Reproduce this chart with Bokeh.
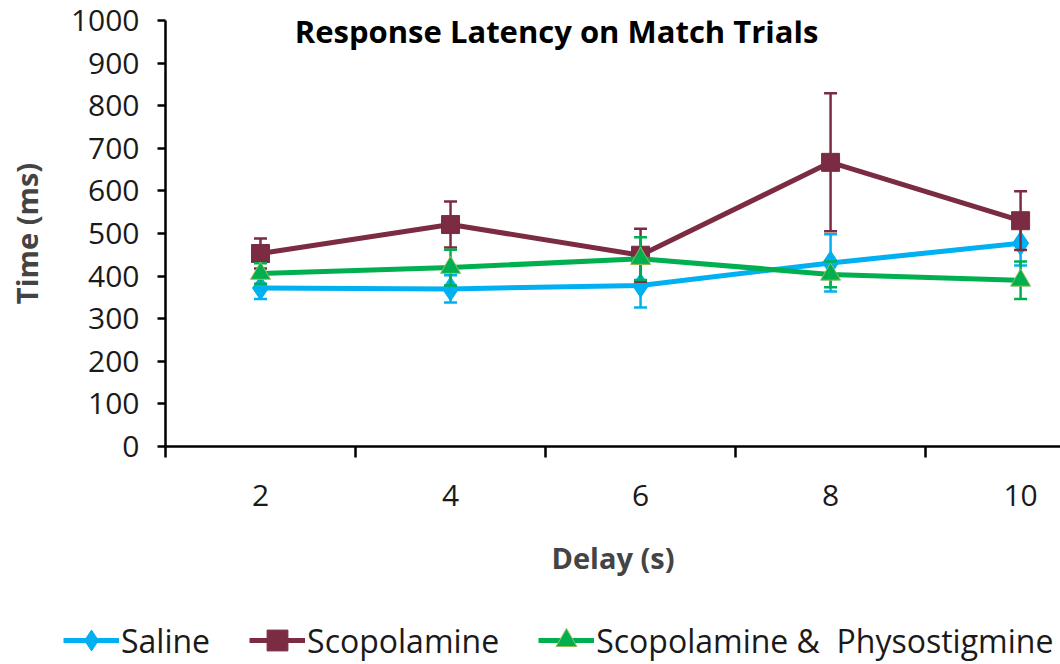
from bokeh.plotting import figure
from bokeh.layouts import column
from bokeh.models import (Range1d, FixedTicker, Label, Legend, LegendItem)
from bokeh.embed import file_html
from bokeh.resources import INLINE

# Delay conditions (s) and mean response latency (ms) with error bar half-widths
delays = [2, 4, 6, 8, 10]
saline = [372, 370, 378, 431, 477]
saline_err = [26, 32, 52, 67, 52]
scopolamine = [453, 521, 449, 667, 530]
scopolamine_err = [35, 54, 62, 162, 69]
scop_physo = [406, 420, 441, 404, 390]
scop_physo_err = [24, 42, 50, 30, 44]
y_ticks = [0, 100, 200, 300, 400, 500, 600, 700, 800, 900, 1000]
x_bounds = [1, 3, 5, 7, 9]

FONT = "Open Sans"

p = figure(width=1060, height=602, output_backend="svg", toolbar_location=None,
           x_range=Range1d(1, 10.42), y_range=Range1d(0, 1000),
           min_border_left=165, min_border_right=0, min_border_top=20,
           min_border_bottom=156)
p.frame_align = False
p.outline_line_color = None
p.grid.visible = False
p.background_fill_color = "white"
p.border_fill_color = "white"

# axes
xa = p.xaxis[0]
xa.ticker = FixedTicker(ticks=delays, minor_ticks=x_bounds)
xa.axis_line_width = 2.5
xa.axis_line_color = "black"
xa.major_tick_out = 0
xa.major_tick_in = 0
xa.minor_tick_out = 11
xa.minor_tick_in = 0
xa.minor_tick_line_width = 2.5
xa.minor_tick_line_color = "black"
xa.major_label_standoff = 27
xa.major_label_text_font = FONT
xa.major_label_text_font_size = "30px"
xa.major_label_text_color = "#1a1a1a"
xa.axis_label = "Delay (s)"
xa.axis_label_text_font = FONT
xa.axis_label_text_font_style = "bold"
xa.axis_label_text_font_size = "29px"
xa.axis_label_standoff = 29

ya = p.yaxis[0]
ya.ticker = FixedTicker(ticks=y_ticks)
ya.axis_line_width = 2.5
ya.axis_line_color = "black"
ya.major_tick_out = 8
ya.major_tick_in = 0
ya.major_tick_line_width = 2.5
ya.major_tick_line_color = "black"
ya.minor_tick_out = 0
ya.minor_tick_in = 0
ya.major_label_standoff = 18
ya.major_label_text_font = FONT
ya.major_label_text_font_size = "30px"
ya.major_label_text_color = "#1a1a1a"
ya.axis_label = "Time (ms)"
ya.axis_label_text_font = FONT
ya.axis_label_text_font_style = "bold"
ya.axis_label_text_font_size = "29px"
ya.axis_label_standoff = 22

series = [
    (saline, saline_err, "#00B0F0", "diamond", 24, "#00B0F0", "Saline"),
    (scopolamine, scopolamine_err, "#7B2C42", "square", 18, "#7B2C42", "Scopolamine"),
    (scop_physo, scop_physo_err, "#00B050", "triangle", 20, "#9BBB59",
     "Scopolamine &  Physostigmine"),
]

# strip underneath the chart that carries the legend
key = figure(width=1060, height=62, output_backend="svg", toolbar_location=None,
             x_range=Range1d(0, 1), y_range=Range1d(0, 1),
             x_axis_type=None, y_axis_type=None, min_border=0)
key.frame_align = False
key.outline_line_color = None
key.grid.visible = False
key.border_fill_color = "white"

items = []
for vals, errs, color, marker, size, edge, name in series:
    lo = [v - e for v, e in zip(vals, errs)]
    hi = [v + e for v, e in zip(vals, errs)]
    # error bars with flat caps
    p.segment(x0=delays, y0=lo, x1=delays, y1=hi, line_color=color, line_width=2.5)
    p.scatter(x=delays, y=lo, marker="dash", size=13, line_color=color, line_width=2.5)
    p.scatter(x=delays, y=hi, marker="dash", size=13, line_color=color, line_width=2.5)
    p.line(x=delays, y=vals, line_color=color, line_width=5)
    p.scatter(x=delays, y=vals, marker=marker, size=size, fill_color=color,
              line_color=edge, line_width=1)
    # matching legend swatches (their single point sits outside the strip's range)
    kl = key.line(x=[-5, -4], y=[-5, -5], line_color=color, line_width=5)
    km = key.scatter(x=[-5], y=[-5], marker=marker, size=size, fill_color=color,
                     line_color=edge, line_width=1)
    items.append(LegendItem(label=name, renderers=[kl, km]))

legend = Legend(items=items, location=(63, -2), orientation="horizontal",
                padding=0, margin=0, spacing=39, label_standoff=2,
                glyph_width=56, glyph_height=52,
                label_text_font=FONT, label_text_font_size="32px",
                label_text_color="#1a1a1a", border_line_alpha=0,
                background_fill_alpha=0)
key.add_layout(legend, "center")

p.add_layout(Label(x=5.116, y=976, text="Response Latency on Match Trials",
                   text_align="center", text_baseline="middle",
                   text_font=FONT, text_font_style="bold",
                   text_font_size="31px", text_color="black"))

open("out.html", "w").write(file_html(column(p, key, spacing=0), INLINE))
